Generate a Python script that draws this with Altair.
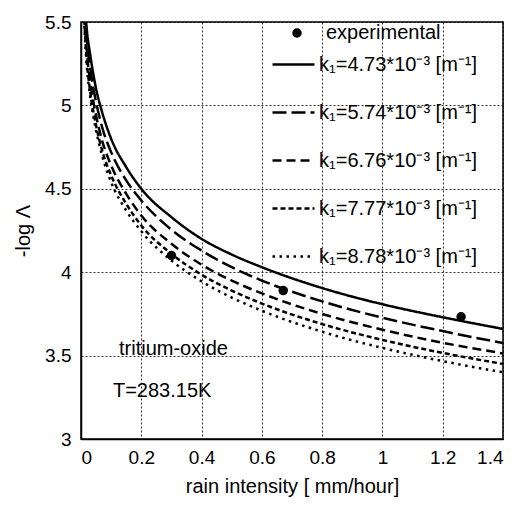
import altair as alt
import pandas as pd

# ---- data ----
rain = [0.01, 0.015, 0.02, 0.03, 0.05, 0.07, 0.1, 0.15, 0.2, 0.3, 0.4, 0.5, 0.6, 0.8, 1.0, 1.2, 1.4]
k473 = [5.72, 5.55, 5.44, 5.31, 5.10, 4.96, 4.80, 4.63, 4.50, 4.33, 4.20, 4.106, 4.03, 3.905, 3.808, 3.73, 3.66]
k574 = [5.68, 5.50, 5.38, 5.23, 5.02, 4.87, 4.72, 4.55, 4.43, 4.255, 4.13, 4.03, 3.95, 3.825, 3.727, 3.647, 3.575]
k676 = [5.62, 5.44, 5.31, 5.15, 4.94, 4.79, 4.64, 4.47, 4.34, 4.17, 4.045, 3.95, 3.873, 3.75, 3.655, 3.577, 3.513]
k777 = [5.56, 5.38, 5.25, 5.09, 4.88, 4.73, 4.58, 4.41, 4.28, 4.11, 3.985, 3.89, 3.812, 3.689, 3.594, 3.516, 3.45]
k878 = [5.52, 5.35, 5.22, 5.06, 4.85, 4.70, 4.54, 4.37, 4.245, 4.07, 3.945, 3.848, 3.769, 3.643, 3.546, 3.467, 3.40]

series_labels = [
    "k\u2081=4.73*10\u207b\u00b3 [m\u207b\u00b9]",
    "k\u2081=5.74*10\u207b\u00b3 [m\u207b\u00b9]",
    "k\u2081=6.76*10\u207b\u00b3 [m\u207b\u00b9]",
    "k\u2081=7.77*10\u207b\u00b3 [m\u207b\u00b9]",
    "k\u2081=8.78*10\u207b\u00b3 [m\u207b\u00b9]",
]
series_values = [k473, k574, k676, k777, k878]
dash_styles = [[1, 0], [14, 5], [9, 5], [5, 3], [2.5, 4.5]]

exp_x = [0.30, 0.671, 1.261]
exp_y = [4.10, 3.89, 3.733]

ann_text = ["tritium-oxide", "T=283.15K"]
ann_x = [0.126, 0.106]
ann_y = [3.54, 3.288]

x_ticks = [0, 0.2, 0.4, 0.6, 0.8, 1, 1.2, 1.4]
y_ticks = [3, 3.5, 4, 4.5, 5, 5.5]

FONT = "Liberation Sans"

rows = []
for lab, vals in zip(series_labels, series_values):
    for xv, yv in zip(rain, vals):
        rows.append({"x": xv, "y": yv, "series": lab})
lines_df = pd.DataFrame(rows)
exp_df = pd.DataFrame({"x": exp_x, "y": exp_y, "kind": ["experimental"] * len(exp_x)})
ann_df = pd.DataFrame({"x": ann_x, "y": ann_y, "t": ann_text})

xscale = alt.Scale(domain=[0, 1.4], nice=False, zero=False)
yscale = alt.Scale(domain=[3, 5.5], nice=False, zero=False)

grid_kw = dict(grid=True, gridColor="#000000", gridDash=[2, 2], gridWidth=1, gridOpacity=0.8)

xaxis = alt.Axis(
    values=x_ticks, format="~g", title="rain intensity [ mm/hour]",
    titleY=47, titleBaseline="middle", labelPadding=9, **grid_kw,
)
yaxis = alt.Axis(
    values=y_ticks, format="~g", title="-log \u039b",
    titleX=-58, titleY=208.5, titleBaseline="middle", titleAngle=-90, labelPadding=10,
    **grid_kw,
)

lines = alt.Chart(lines_df).mark_line(
    clip=True, strokeWidth=2.5, color="black", interpolate="monotone"
).encode(
    x=alt.X("x:Q", scale=xscale, axis=xaxis),
    y=alt.Y("y:Q", scale=yscale, axis=yaxis),
    strokeDash=alt.StrokeDash(
        "series:N",
        scale=alt.Scale(domain=series_labels, range=dash_styles),
        legend=alt.Legend(
            title=None, orient="none", legendX=190, legendY=20,
            symbolType="stroke", symbolSize=1764, symbolStrokeWidth=2.5,
            symbolStrokeColor="black", labelFontSize=20, labelFont=FONT,
            labelColor="black", labelOffset=3, rowPadding=15, padding=0,
            labelLimit=0,
        ),
    ),
    detail="series:N",
)

points = alt.Chart(exp_df).mark_point(filled=True, size=90, color="black", opacity=1).encode(
    x=alt.X("x:Q", scale=xscale),
    y=alt.Y("y:Q", scale=yscale),
    shape=alt.Shape(
        "kind:N",
        scale=alt.Scale(domain=["experimental"], range=["circle"]),
        legend=alt.Legend(
            title=None, orient="none", legendX=206, legendY=1,
            symbolSize=90, symbolFillColor="black", symbolStrokeColor="black",
            symbolOpacity=1, labelFontSize=20, labelFont=FONT, labelColor="black",
            labelOffset=19, padding=0,
        ),
    ),
)

texts = alt.Chart(ann_df).mark_text(
    align="left", baseline="middle", fontSize=20, font=FONT, color="black"
).encode(
    x=alt.X("x:Q", scale=xscale),
    y=alt.Y("y:Q", scale=yscale),
    text="t:N",
)

chart = alt.layer(lines, points, texts).properties(
    width=422, height=417,
    autosize=alt.AutoSizeParams(type="none"),
    padding={"left": 73, "top": 14, "right": 6, "bottom": 59},
    background="white",
).configure_view(
    stroke="black", strokeWidth=1.5
).configure_axis(
    labelFont=FONT, labelFontSize=19, labelColor="black",
    titleFont=FONT, titleFontSize=20, titleColor="black", titleFontWeight="normal",
    domainColor="black", domainWidth=1.5, ticks=False,
)

chart.save("out.html", embed_options={"renderer": "svg", "actions": False})
